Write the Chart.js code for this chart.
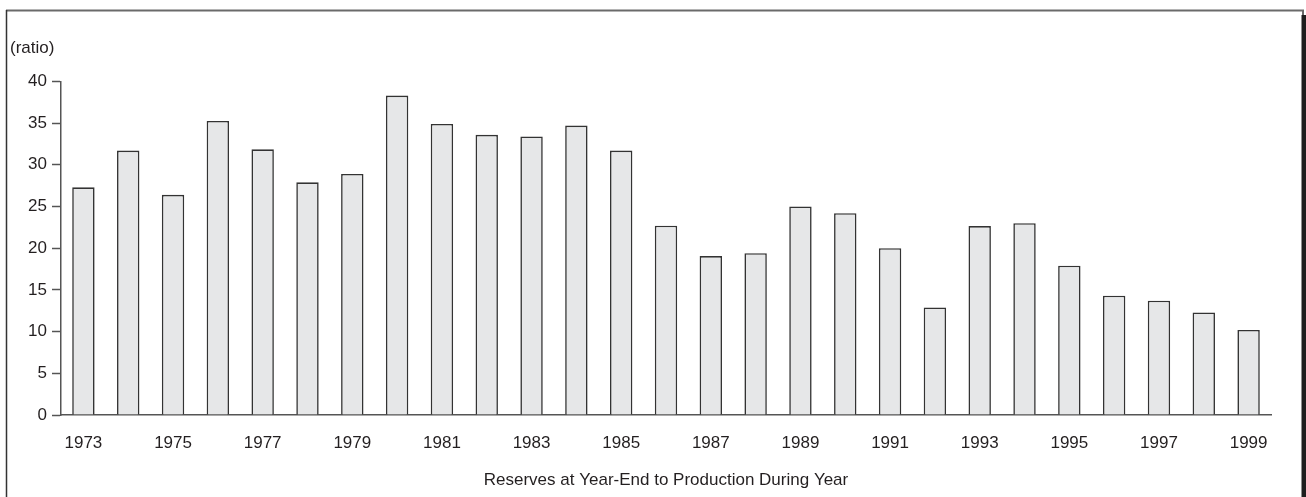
<!DOCTYPE html>
<html>
<head>
<meta charset="utf-8">
<script src="https://cdn.jsdelivr.net/npm/chart.js@4"></script>
<style>
  html, body { margin: 0; padding: 0; background: #fff; }
  #wrap { position: relative; width: 1306px; height: 497px; }
</style>
</head>
<body>
<div id="wrap"><canvas id="ratioChart" width="1306" height="497"></canvas></div>
<script>
// Reserves-to-production ratio by year
const years = ['1973', '1974', '1975', '1976', '1977', '1978', '1979', '1980', '1981',
  '1982', '1983', '1984', '1985', '1986', '1987', '1988', '1989', '1990', '1991',
  '1992', '1993', '1994', '1995', '1996', '1997', '1998', '1999'];
const ratios = [27.3, 31.7, 26.4, 35.25, 31.85, 27.9, 28.9, 38.3, 34.9,
  33.6, 33.4, 34.7, 31.7, 22.7, 19.05, 19.4, 25.0, 24.2, 20.0,
  12.9, 22.65, 23.0, 17.9, 14.3, 13.7, 12.3, 10.2];
const yTicks = [0, 5, 10, 15, 20, 25, 30, 35, 40];

const textColor = '#231f20';
const axisColor = '#555555';
const fontFamily = '"Liberation Sans", Arial, Helvetica, sans-serif';

// frame around the figure (top rule, left rule, heavy right edge)
const framePlugin = {
  id: 'frame',
  afterDraw(chart) {
    const ctx = chart.ctx;
    ctx.save();
    ctx.strokeStyle = '#6a6a6a';
    ctx.lineWidth = 2;
    ctx.beginPath();
    ctx.moveTo(6, 10.5);
    ctx.lineTo(1303, 10.5);
    ctx.lineTo(1303, 15);
    ctx.stroke();
    ctx.strokeStyle = '#333333';
    ctx.lineWidth = 1.5;
    ctx.beginPath();
    ctx.moveTo(6.5, 10);
    ctx.lineTo(6.5, 497);
    ctx.stroke();
    ctx.fillStyle = '#1e1e1e';
    ctx.fillRect(1301.5, 15, 4.5, 482);
    ctx.restore();
  }
};

new Chart(document.getElementById('ratioChart'), {
  type: 'bar',
  data: {
    labels: years,
    datasets: [
      {
        label: 'Reserves to production',
        data: ratios,
        backgroundColor: '#e6e7e8',
        borderColor: '#333333',
        borderWidth: 1.6,
        barPercentage: 0.5,
        categoryPercentage: 1.0,
      },
    ],
  },
  options: {
    responsive: false,
    animation: false,
    layout: { padding: { top: 30, left: 10, right: 35, bottom: 6 } },
    plugins: {
      legend: { display: false },
      tooltip: { enabled: false },
      title: {
        display: true,
        text: '(ratio)',
        align: 'start',
        color: textColor,
        font: { family: fontFamily, size: 17, weight: 'normal' },
        padding: { top: 8, bottom: 23 },
      },
    },
    scales: {
      x: {
        afterFit: (scale) => { scale.height = 76; },
        grid: { display: false, drawTicks: false },
        border: { display: true, color: axisColor, width: 1.5 },
        ticks: {
          autoSkip: false,
          maxRotation: 0,
          padding: 18,
          color: textColor,
          font: { family: fontFamily, size: 17 },
          callback: (value, index) => (index % 2 === 0 ? years[index] : ''),
        },
        title: {
          display: true,
          text: 'Reserves at Year-End to Production During Year',
          color: textColor,
          font: { family: fontFamily, size: 17 },
          padding: { top: 0, bottom: 0 },
        },
      },
      y: {
        min: 0,
        max: 40,
        afterBuildTicks: (scale) => { scale.ticks = yTicks.map(v => ({ value: v })); },
        afterFit: (scale) => { scale.width = 51; },
        grid: { drawOnChartArea: false, drawTicks: true, tickLength: 9, tickColor: axisColor, tickWidth: 1.5 },
        border: { display: true, color: axisColor, width: 1.5 },
        ticks: {
          padding: 5,
          color: textColor,
          font: { family: fontFamily, size: 17 },
        },
      },
    },
  },
  plugins: [framePlugin],
});
</script>
</body>
</html>
